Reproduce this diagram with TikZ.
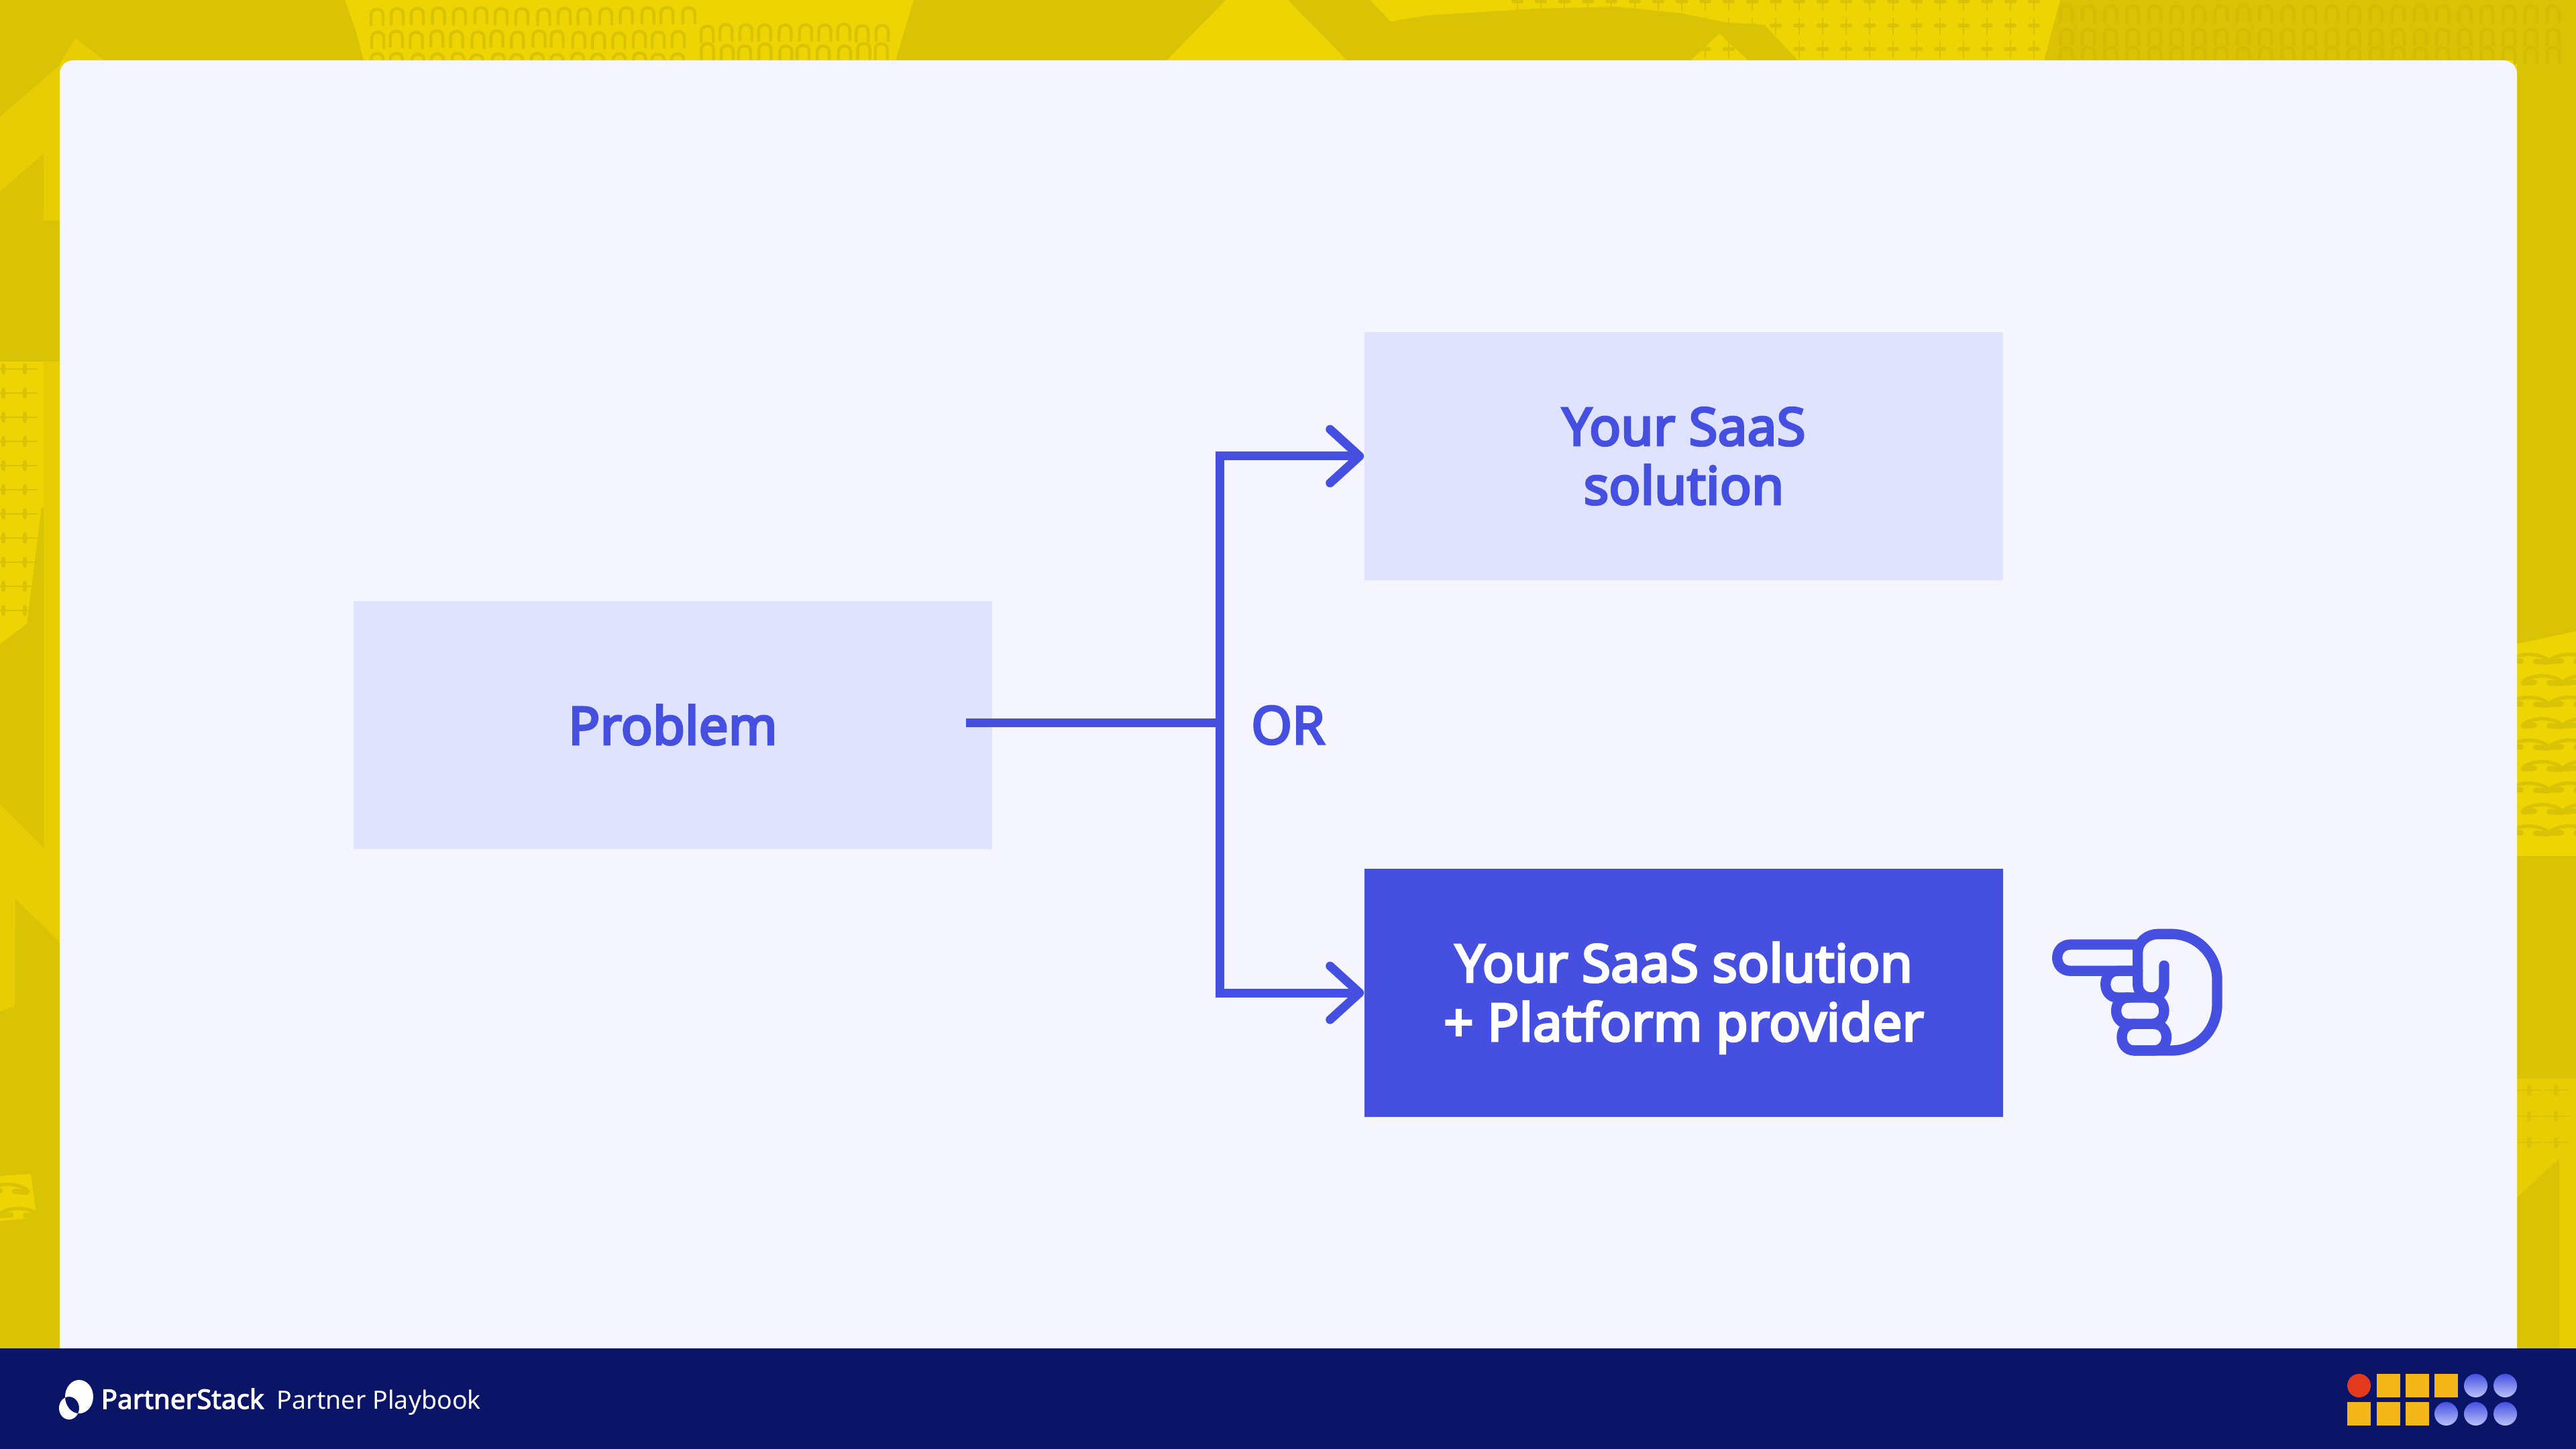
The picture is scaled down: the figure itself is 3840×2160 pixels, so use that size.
\documentclass[tikz,border=0pt]{standalone}
\usepackage{fontspec}
\setmainfont{Noto Sans}
\newfontfamily\medfont[FakeBold=4.5,LetterSpace=0.6]{Noto Sans}
\newfontfamily\logofont[FakeBold=3,LetterSpace=0.4]{Noto Sans}
\usetikzlibrary{arrows.meta}
\definecolor{baseY}{HTML}{EFD404}
\definecolor{midY}{HTML}{E8CD04}
\definecolor{darkY}{HTML}{DAC204}
\definecolor{faintY}{HTML}{D4BC05}
\definecolor{cardC}{HTML}{F4F5FE}
\definecolor{navyC}{HTML}{0A1567}
\definecolor{blueC}{HTML}{4550E0}
\definecolor{paleC}{HTML}{DFE3FD}
\definecolor{redC}{HTML}{E33A1E}
\definecolor{ambC}{HTML}{F4B619}
\definecolor{gradT}{HTML}{4550E0}
\definecolor{gradB}{HTML}{BAC2FB}
\tikzset{
  boxbase/.style={minimum width=238pt,minimum height=92.5pt,inner sep=0pt,draw=none,align=center,font=\medfont\fontsize{19.4pt}{22pt}\selectfont},
  palebox/.style={boxbase,fill=paleC,text=blueC},
  solidbox/.style={boxbase,fill=blueC,text=white},
  conn/.style={draw=blueC,line width=3.25pt},
  arrowconn/.style={conn,-{Straight Barb[length=11pt,width=20pt,line width=3.25pt,round]}},
  handline/.style={draw=blueC,line width=3.83pt,line cap=round,line join=round},
  archmark/.style={draw=darkY,line width=1.1pt,line cap=round},
  faintmark/.style={draw=faintY,line width=1.1pt,line cap=round},
  plusmark/.style={draw=darkY,line width=.7pt,line cap=round},
  squarecell/.style={fill=ambC},
  dotcell/.style={top color=gradT,bottom color=gradB,draw=none}
}
\newcommand{\archat}[3][archmark]{\draw[#1] ({#2-9},{#3+12}) -- ({#2-9},{#3-3}) .. controls ({#2-9},{#3-14}) and ({#2+9},{#3-14}) .. ({#2+9},{#3-3}) -- ({#2+9},{#3+12});}
\newcommand{\vplus}[2]{\draw[plusmark] (#1,{#2-11}) -- (#1,{#2+13}); \draw[plusmark,line width=1.6pt] ({#1-6},#2) -- ({#1+6},#2);}
\newcommand{\hplus}[2]{\draw[plusmark] ({#1-16},#2) -- ({#1+18},#2); \draw[plusmark,line width=1.6pt] (#1,{#2-5}) -- (#1,{#2+5});}
\newcommand{\phoneat}[2]{\draw[archmark,line width=1.3pt] ({#1-30},{#2+6}) .. controls ({#1-20},{#2-8}) and ({#1+18},{#2-8}) .. ({#1+30},{#2+6}); \draw[archmark,line width=2pt] ({#1-28},{#2+6}) -- ({#1-12},{#2+5}); \draw[archmark,line width=2pt] ({#1+10},{#2+6}) -- ({#1+28},{#2+7});}
\begin{document}
\begin{tikzpicture}[x=0.25pt,y=-0.25pt]
\useasboundingbox (0,0) rectangle (3840,2160);
% --- yellow backdrop
\fill[baseY] (0,0) rectangle (3840,2160);
\fill[midY] (0,90) rectangle (89,2010);
\fill[midY] (3752,1608) rectangle (3840,2010);
% top band
\fill[darkY] (0,0) -- (514,0) -- (530,45) -- (542,90) -- (155,90) -- (113,57) -- (92,90) -- (89,97) -- (0,174) -- cycle;
\fill[midY] (113,57) -- (155,90) -- (92,90) -- cycle;
\fill[darkY] (1362,0) -- (1827,0) -- (1739,90) -- (1335,90) -- cycle;
\fill[darkY] (1920,0) -- (2042,0) -- (2073,32) -- (2128,23) -- (2288,13) -- (2410,10) -- (2508,20) -- (2570,33) -- (2630,37) -- (2680,90) -- (2606,90) -- (2563,50) -- (2520,90) -- (2008,90) -- cycle;
\fill[darkY] (3071,0) -- (3840,0) -- (3840,941) -- (3752,960) -- (3752,90) -- (3047,90) -- cycle;
% left band
\fill[darkY] (0,286) -- (65,229) -- (65,329) -- (89,329) -- (89,539) -- (0,539) -- cycle;
\fill[baseY] (0,539) rectangle (65,975);
\fill[darkY] (0,960) -- (40,930) -- (62,757) -- (65,757) -- (65,1263) -- (0,1198) -- cycle;
\fill[darkY] (23,1340) -- (89,1405) -- (89,2010) -- (0,2010) -- (0,1508) -- (22,1500) -- cycle;
\fill[baseY] (0,1753) -- (46,1750) -- (55,1815) -- (0,1820) -- cycle;
% right band
\fill[darkY] (3752,1276) rectangle (3840,1608);
\fill[baseY] (3752,960) -- (3840,941) -- (3840,1276) -- (3752,1276) -- cycle;
\fill[midY] (3752,1785) -- (3815,1727) -- (3815,2010) -- (3840,2010) -- (3840,1608) -- (3752,1608) -- cycle;
\fill[darkY] (3752,1785) -- (3815,1727) -- (3815,2010) -- (3752,2010) -- cycle;
% textures
\pgfmathsetseed{11}
\foreach \c in {0,...,15}{\pgfmathsetmacro\xx{560+\c*31+3*rnd}\pgfmathsetmacro\yy{22+3*rnd}\archat{\xx}{\yy}}
\foreach \c in {0,...,15}{\pgfmathsetmacro\xx{560+\c*30+4*rnd}\pgfmathsetmacro\yy{57+4*rnd}\archat{\xx}{\yy}}
\foreach \c in {0,...,15}{\pgfmathsetmacro\xx{560+\c*30+4*rnd}\pgfmathsetmacro\yy{90+3*rnd}\archat{\xx}{\yy}}
\foreach \c in {0,...,9}{\pgfmathsetmacro\xx{1052+\c*29+4*rnd}\pgfmathsetmacro\yy{47+4*rnd}\archat{\xx}{\yy}}
\foreach \c in {0,...,9}{\pgfmathsetmacro\xx{1052+\c*29+4*rnd}\pgfmathsetmacro\yy{76+4*rnd}\archat{\xx}{\yy}}
\foreach \c in {0,...,22}{\pgfmathsetmacro\xx{2262+\c*35}\vplus{\xx}{2}\vplus{\xx}{38}\vplus{\xx}{73}}
\foreach \c in {0,...,22}{\pgfmathsetmacro\xx{3080+\c*33}\archat[faintmark]{\xx}{20}\archat[faintmark]{\xx}{55}\archat[faintmark]{\xx}{82}}
\foreach \r in {0,...,10}{\pgfmathsetmacro\yy{550+\r*36}\hplus{5}{\yy}\hplus{37}{\yy}}
\foreach \r in {0,...,8}{\pgfmathsetmacro\yy{980+\r*32}\pgfmathsetmacro\xo{mod(\r,2)*20}\phoneat{\xo+3770}{\yy}\phoneat{\xo+3830}{\yy}}
\foreach \r in {0,...,2}{\pgfmathsetmacro\yy{1625+\r*39}\hplus{3770}{\yy}\hplus{3810}{\yy}}
\phoneat{12}{1770}\phoneat{28}{1806}
% --- card and footer
\fill[cardC,rounded corners=5pt] (89,2100) -- (89,90) -- (3752,90) -- (3752,2100) -- cycle;
\fill[navyC] (0,2010) rectangle (3840,2160);
% --- diagram
\node[palebox] (problem) at (1003,1080.5) {Problem};
\node[palebox] (saas) at (2510,680) {Your SaaS\\solution};
\node[solidbox] (platform) at (2510,1480) {\rule{0pt}{18.5pt}Your SaaS solution\\+ Platform provider};
\node[font=\medfont\fontsize{19.4pt}{22pt}\selectfont,text=blueC,inner sep=0pt] (orlabel) at (1920,1081) {OR};
\coordinate (stem) at (1440,1077);
\coordinate (junction) at (1818,1077);
\draw[conn] (stem) -- (junction);
\draw[arrowconn] (junction) |- (saas.west);
\draw[arrowconn] (junction) |- (platform.west);
% --- hand icon
\begin{scope}[shift={(2980,1340)},x=0.08333pt,y=-0.08333pt]
\draw[handline] (620,380) -- (620,240) .. controls (620,190) and (665,157) .. (710,157) -- (770,157)
  .. controls (885,157) and (975,250) .. (975,360) -- (975,470)
  .. controls (975,590) and (885,678) .. (770,678) -- (605,678);
\draw[handline] (620,204) -- (320,204) .. controls (240,204) and (240,322) .. (320,322) -- (620,322);
\draw[handline] (620,380) .. controls (620,420) and (650,441) .. (680,441) .. controls (710,441) and (738,420) .. (738,380) -- (738,298);
\draw[handline] (620,322) -- (530,322) .. controls (458,322) and (458,441) .. (530,441) -- (680,441);
\draw[handline] (580,441) .. controls (505,441) and (505,559) .. (580,559) -- (680,559) .. controls (757,559) and (757,441) .. (680,441);
\draw[handline] (605,559) .. controls (530,559) and (530,678) .. (605,678) -- (690,678) .. controls (768,678) and (768,559) .. (690,559);
\end{scope}
% --- footer logo
\fill[white,even odd rule] (118,2082) ellipse[x radius=21,y radius=25] (103,2099) ellipse[x radius=15,y radius=17];
\node[anchor=base west,inner sep=0pt,text=white,font=\logofont\fontsize{10pt}{11pt}\selectfont] (brand) at (150,2100) {PartnerStack};
\node[anchor=base west,inner sep=0pt,text=white,font=\fontsize{9.4pt}{11pt}\selectfont] (playbook) at (412,2100) {Partner Playbook};
% --- footer mark
\fill[redC] (3516.5,2065.5) circle[radius=17.5];
\foreach \xx/\yy in {3543/2048,3586/2048,3629/2048,3499/2090,3543/2090,3586/2090}{\fill[squarecell] (\xx,\yy) rectangle ++(35,35);}
\foreach \xx/\yy in {3673/2048,3717/2048,3629/2090,3673/2090,3717/2090}{\shade[dotcell] (\xx+17.5,\yy+17.5) circle[radius=17.5];}
\end{tikzpicture}
\end{document}
